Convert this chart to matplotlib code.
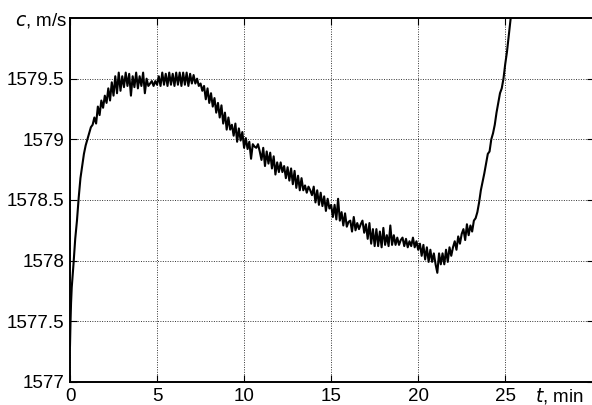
import numpy as np
import matplotlib
matplotlib.use("Agg")
import matplotlib.pyplot as plt

plt.rcParams['font.family'] = ['Liberation Sans', 'DejaVu Sans']

# sample times (min)
t_early = [0.0, 0.03, 0.06]
c_early = [1577.30, 1577.50, 1577.65]

t_step = 0.1  # sampling step of the main record, min
c_main = [
    # 0.1 - 1.0
    1577.78, 1577.97, 1578.18, 1578.33, 1578.52, 1578.68, 1578.78, 1578.88, 1578.95, 1579.00,
    # 1.1 - 2.0
    1579.05, 1579.10, 1579.12, 1579.18, 1579.13, 1579.27, 1579.20, 1579.32, 1579.26, 1579.36,
    # 2.1 - 3.0
    1579.30, 1579.42, 1579.32, 1579.47, 1579.36, 1579.52, 1579.38, 1579.55, 1579.40, 1579.52,
    # 3.1 - 4.0
    1579.43, 1579.55, 1579.44, 1579.54, 1579.36, 1579.52, 1579.43, 1579.55, 1579.42, 1579.52,
    # 4.1 - 5.0
    1579.44, 1579.55, 1579.38, 1579.50, 1579.44, 1579.46, 1579.48, 1579.44, 1579.48, 1579.45,
    # 5.1 - 6.0
    1579.52, 1579.44, 1579.55, 1579.45, 1579.54, 1579.44, 1579.55, 1579.45, 1579.54, 1579.44,
    # 6.1 - 7.0
    1579.55, 1579.45, 1579.55, 1579.44, 1579.55, 1579.45, 1579.55, 1579.44, 1579.54, 1579.46,
    # 7.1 - 8.0
    1579.53, 1579.46, 1579.50, 1579.44, 1579.46, 1579.40, 1579.44, 1579.33, 1579.42, 1579.30,
    # 8.1 - 9.0
    1579.38, 1579.27, 1579.34, 1579.22, 1579.30, 1579.18, 1579.28, 1579.13, 1579.22, 1579.08,
    # 9.1 - 10.0
    1579.18, 1579.08, 1579.12, 1579.03, 1579.13, 1578.98, 1579.09, 1578.99, 1579.06, 1578.93,
    # 10.1 - 11.0
    1579.01, 1578.92, 1578.98, 1578.84, 1578.96, 1578.94, 1578.93, 1578.96, 1578.90, 1578.83,
    # 11.1 - 12.0
    1578.93, 1578.78, 1578.90, 1578.80, 1578.89, 1578.76, 1578.86, 1578.71, 1578.81, 1578.73,
    # 12.1 - 13.0
    1578.81, 1578.73, 1578.78, 1578.68, 1578.77, 1578.66, 1578.76, 1578.63, 1578.74, 1578.60,
    # 13.1 - 14.0
    1578.70, 1578.58, 1578.68, 1578.58, 1578.62, 1578.56, 1578.61, 1578.58, 1578.54, 1578.61,
    # 14.1 - 15.0
    1578.48, 1578.58, 1578.46, 1578.56, 1578.45, 1578.53, 1578.41, 1578.51, 1578.43, 1578.46,
    # 15.1 - 16.0
    1578.36, 1578.46, 1578.34, 1578.51, 1578.33, 1578.40, 1578.29, 1578.39, 1578.28, 1578.32,
    # 16.1 - 17.0
    1578.33, 1578.24, 1578.36, 1578.25, 1578.31, 1578.26, 1578.30, 1578.33, 1578.23, 1578.30,
    # 17.1 - 18.0
    1578.18, 1578.31, 1578.14, 1578.26, 1578.12, 1578.26, 1578.12, 1578.24, 1578.11, 1578.27,
    # 18.1 - 19.0
    1578.13, 1578.21, 1578.12, 1578.29, 1578.13, 1578.21, 1578.13, 1578.19, 1578.13, 1578.17,
    # 19.1 - 20.0
    1578.19, 1578.12, 1578.18, 1578.11, 1578.16, 1578.12, 1578.19, 1578.11, 1578.16, 1578.09,
    # 20.1 - 21.0
    1578.14, 1578.04, 1578.13, 1578.01, 1578.11, 1577.99, 1578.09, 1577.99, 1578.06, 1577.97,
    # 21.1 - 22.0
    1577.90, 1578.06, 1577.97, 1578.06, 1577.97, 1578.09, 1577.99, 1578.11, 1578.04, 1578.11,
    # 22.1 - 23.0
    1578.16, 1578.09, 1578.20, 1578.14, 1578.22, 1578.26, 1578.17, 1578.30, 1578.21, 1578.29,
    # 23.1 - 24.0
    1578.24, 1578.33, 1578.35, 1578.40, 1578.48, 1578.58, 1578.65, 1578.72, 1578.80, 1578.88,
    # 24.1 - 25.0
    1578.90, 1579.00, 1579.05, 1579.12, 1579.22, 1579.30, 1579.38, 1579.42, 1579.50, 1579.62,
    # 25.1 - 25.4
    1579.72, 1579.85, 1579.98, 1580.10,
]

x_ticks = [0, 5, 10, 15, 20, 25]
x_ticklabels = ['0', '5', '10', '15', '20', '25']
y_ticks = [1577, 1577.5, 1578, 1578.5, 1579, 1579.5]
y_ticklabels = ['1577', '1577.5', '1578', '1578.5', '1579', '1579.5']

t_main = [round(t_step * (i + 1), 2) for i in range(len(c_main))]
t = np.array(t_early + t_main)
c = np.array(c_early + c_main)

fig = plt.figure(figsize=(5.92, 4.05), dpi=100)
ax = fig.add_axes([70 / 592, 1 - 382 / 405, 524 / 592, 364 / 405])

ax.plot(t, c, color='black', linewidth=1.5)

ax.set_xlim(0, 30.1)
ax.set_ylim(1577, 1580)
ax.set_xticks(x_ticks)
ax.set_xticklabels(x_ticklabels)
ax.set_yticks(y_ticks)
ax.set_yticklabels(y_ticklabels)

ax.grid(True, linestyle=(0, (1, 1.5)), color='black', linewidth=0.7, alpha=0.8)
ax.tick_params(direction='in', length=5, width=0.8, top=True, right=True,
               labelsize=13.5, colors='black')
ax.tick_params(axis='x', pad=4)
ax.tick_params(axis='y', pad=4)
for s in ax.spines.values():
    s.set_linewidth(1.4)
    s.set_color('black')

fig.text(67 / 592, 1 - 20 / 405, r'$\it{c}$, m/s', ha='right', va='center',
         fontsize=13.5)
fig.text(584 / 592, 1 - 396 / 405, r'$\it{t}$, min', ha='right', va='center',
         fontsize=13.5)

fig.savefig('out.png', dpi=100)
